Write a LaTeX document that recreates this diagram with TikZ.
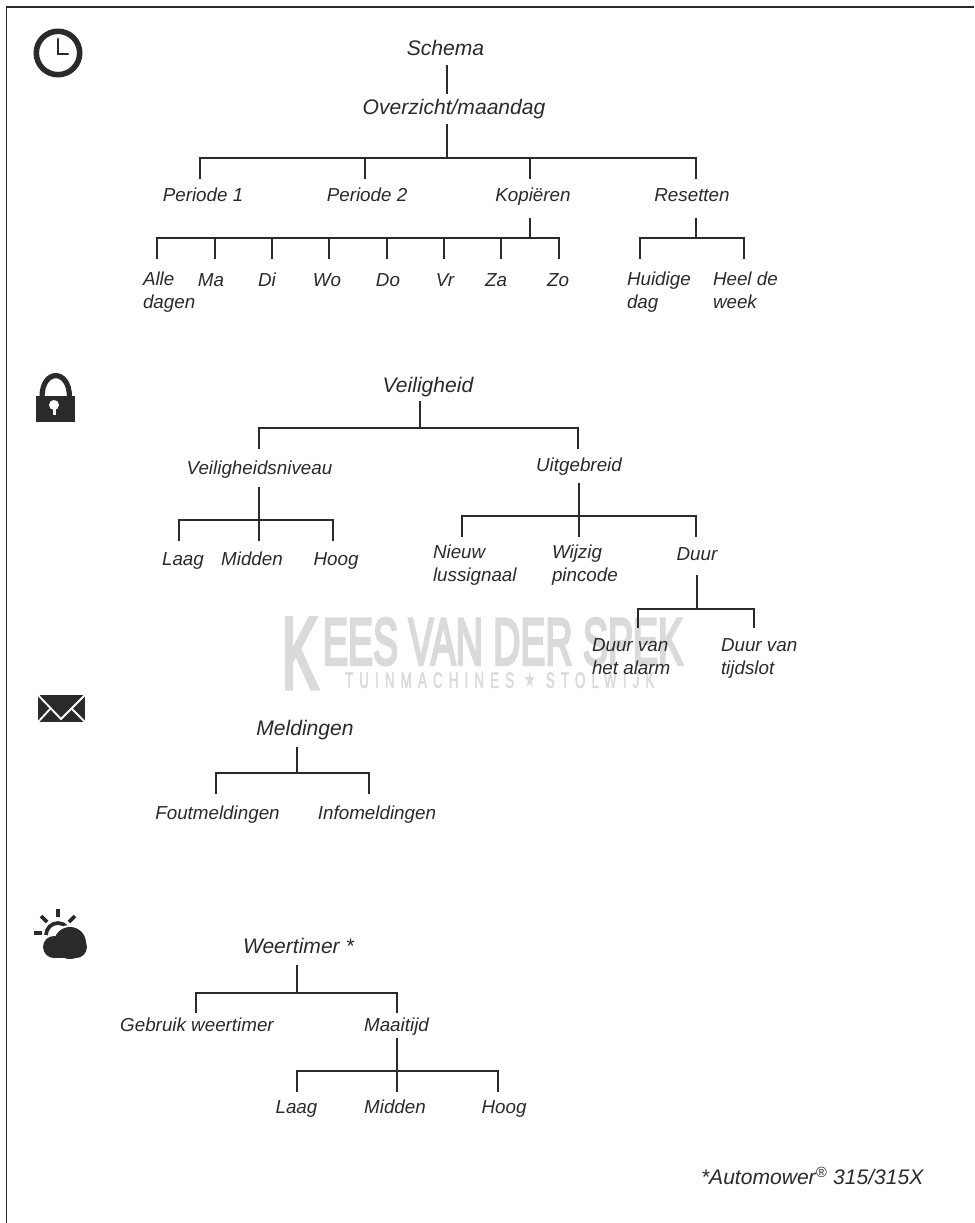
\documentclass[tikz,border=0pt]{standalone}
\usepackage{fontspec}
\setmainfont{Liberation Sans}
\newfontfamily\stars{DejaVu Sans}
\newfontfamily\wmfont[FakeBold=5]{Liberation Sans}
\newfontfamily\wmsmall[FakeBold=2.5,LetterSpace=45]{Liberation Sans}
\definecolor{ink}{HTML}{2B2A29}
\definecolor{wmgray}{HTML}{DADADA}
\tikzset{
  x=0.75pt,y=-0.75pt,
  lbl/.style={font=\fontsize{14.1}{16.8}\selectfont\itshape,text=ink,inner sep=0pt,outer sep=0pt,anchor=base},
  top/.style={lbl,font=\fontsize{15.8}{18}\selectfont\itshape},
  lbll/.style={lbl,align=left,anchor=base west},
  tree/.style={draw=ink,line width=1.35pt,line cap=butt},
  icon/.style={fill=ink,draw=none},
  wm/.style={text=wmgray,inner sep=0pt,outer sep=0pt,anchor=south west}
}
\begin{document}
\begin{tikzpicture}
\useasboundingbox (0,0) rectangle (974,1223);
\fill[white] (0,0) rectangle (974,1223);
% watermark
\node[wm] (wmk) at (282,688) {\resizebox{27pt}{52pt}{\wmfont K}};
\node[wm] (wma) at (323,665) {\resizebox{270pt}{34.5pt}{\wmfont EES VAN DER SPEK}};
\node[wm] (wmb) at (345,688) {\resizebox{232pt}{12pt}{\wmsmall TUINMACHINES {\stars ★} STOLWIJK}};
% frame
\coordinate (fa) at (6.5,1223); \coordinate (fb) at (6.5,7); \coordinate (fc) at (974,7);
\draw[draw=ink,line width=1.2pt] (fa) -- (fb) -- (fc);
% clock
\draw[draw=ink,line width=4.2pt] (58,53) circle (21.7);
\draw[draw=ink,line width=1.9pt,line cap=round] (58,39) -- (58,54) -- (68,54);
% lock
\fill[icon] (36,396) rectangle (75,422);
\draw[draw=ink,line width=3.9pt] (42,397) .. controls (42,368.5) and (69.5,368.5) .. (69.5,397);
\fill[white] (54,405) circle (5);
\fill[white] (52.5,405) rectangle (55.5,415);
% envelope
\fill[icon] (38,695) rectangle (85,722);
\draw[white,line width=1.4pt] (38,695) -- (61,719) -- (85,695);
\draw[white,line width=1.4pt] (38,722) -- (51,708) (85,722) -- (71,708);
% weather
\draw[draw=ink,line width=2.8pt] (58,909) -- (58,917) (41,916) -- (47,922) (75,916) -- (69,922) (34,933) -- (42,933);
\draw[draw=ink,line width=2.8pt] (46,935) arc (180:320:12);
\fill[white] (70,943) circle (18);
\fill[white] (54,947) circle (13);
\fill[icon] (70,943) circle (16);
\fill[icon] (54,947) circle (11);
\fill[icon] (76,947) circle (11);
\fill[icon] (54,948) rectangle (76,958);
% texts
\node[top] (schema) at (445.5,56) {Schema};
\node[top] (over) at (454,115) {Overzicht/maandag};
\node[lbl] (per1) at (203,202) {Periode 1};
\node[lbl] (per2) at (367,202) {Periode 2};
\node[lbl] (kop) at (533,202) {Kopiëren};
\node[lbl] (res) at (692,202) {Resetten};
\node[lbll] (alle) at (143,308) {Alle\\dagen};
\node[lbl] (ma) at (211,286) {Ma};
\node[lbl] (di) at (267,286) {Di};
\node[lbl] (wo) at (327,286) {Wo};
\node[lbl] (do) at (388,286) {Do};
\node[lbl] (vr) at (445,286) {Vr};
\node[lbl] (za) at (496,286) {Za};
\node[lbl] (zo) at (558,286) {Zo};
\node[lbll] (hui) at (627,308) {Huidige\\dag};
\node[lbll] (heel) at (713,308) {Heel de\\week};
\node[top] (vei) at (428,392) {Veiligheid};
\node[lbl] (vn) at (259.5,474) {Veiligheidsniveau};
\node[lbl] (uit) at (579,471) {Uitgebreid};
\node[lbl] (laag) at (183,565) {Laag};
\node[lbl] (mid) at (252,565) {Midden};
\node[lbl] (hoog) at (336,565) {Hoog};
\node[lbll] (nieuw) at (433,581) {Nieuw\\lussignaal};
\node[lbll] (wijz) at (552,581) {Wijzig\\pincode};
\node[lbl] (duur) at (697,560) {Duur};
\node[lbll] (dalarm) at (592,674) {Duur van\\het alarm};
\node[lbll] (dslot) at (721,674) {Duur van\\tijdslot};
\node[top] (meld) at (305,735) {Meldingen};
\node[lbl] (fout) at (217.5,819) {Foutmeldingen};
\node[lbl] (info) at (377,819) {Infomeldingen};
\node[top,anchor=base west] (weer) at (243,953) {Weertimer *};
\node[lbl] (geb) at (197,1031) {Gebruik weertimer};
\node[lbl] (maai) at (396.5,1031) {Maaitijd};
\node[lbl] (laagb) at (296.5,1113) {Laag};
\node[lbl] (midb) at (395,1113) {Midden};
\node[lbl] (hoogb) at (504,1113) {Hoog};
\node[top,anchor=base west] (foot) at (701,1184) {*Automower\textsuperscript{®} 315/315X};
% connectors
\draw[tree] (447,65) -- (447,94);
\draw[tree] (447,124) -- (447,158);
\draw[tree] (200,179) -- (200,158) -- (696,158) -- (696,179);
\draw[tree] (365,158) -- (365,179);
\draw[tree] (530,158) -- (530,179);
\draw[tree] (530,218) -- (530,238);
\draw[tree] (157,259) -- (157,238) -- (559,238) -- (559,259);
\foreach \n in {215,272,329,387,444,501} {\draw[tree] (\n,238) -- (\n,259);}
\draw[tree] (696,218) -- (696,238);
\draw[tree] (640,259) -- (640,238) -- (744,238) -- (744,259);
% veiligheid
\draw[tree] (420,401) -- (420,428);
\draw[tree] (259,449) -- (259,428) -- (578,428) -- (578,449);
\draw[tree] (259,487) -- (259,541);
\draw[tree] (179,541) -- (179,520) -- (333,520) -- (333,541);
\draw[tree] (579,483) -- (579,537);
\draw[tree] (462,537) -- (462,516) -- (696,516) -- (696,537);
\draw[tree] (697,575) -- (697,609);
\draw[tree] (638,628) -- (638,609) -- (754,609) -- (754,628);
% meldingen
\draw[tree] (297,747) -- (297,773);
\draw[tree] (216,794) -- (216,773) -- (369,773) -- (369,794);
% weertimer
\draw[tree] (297,965) -- (297,993);
\draw[tree] (196,1013) -- (196,993) -- (397,993) -- (397,1013);
\draw[tree] (397,1038) -- (397,1092);
\draw[tree] (297,1092) -- (297,1071) -- (498,1071) -- (498,1092);
\end{tikzpicture}
\end{document}
